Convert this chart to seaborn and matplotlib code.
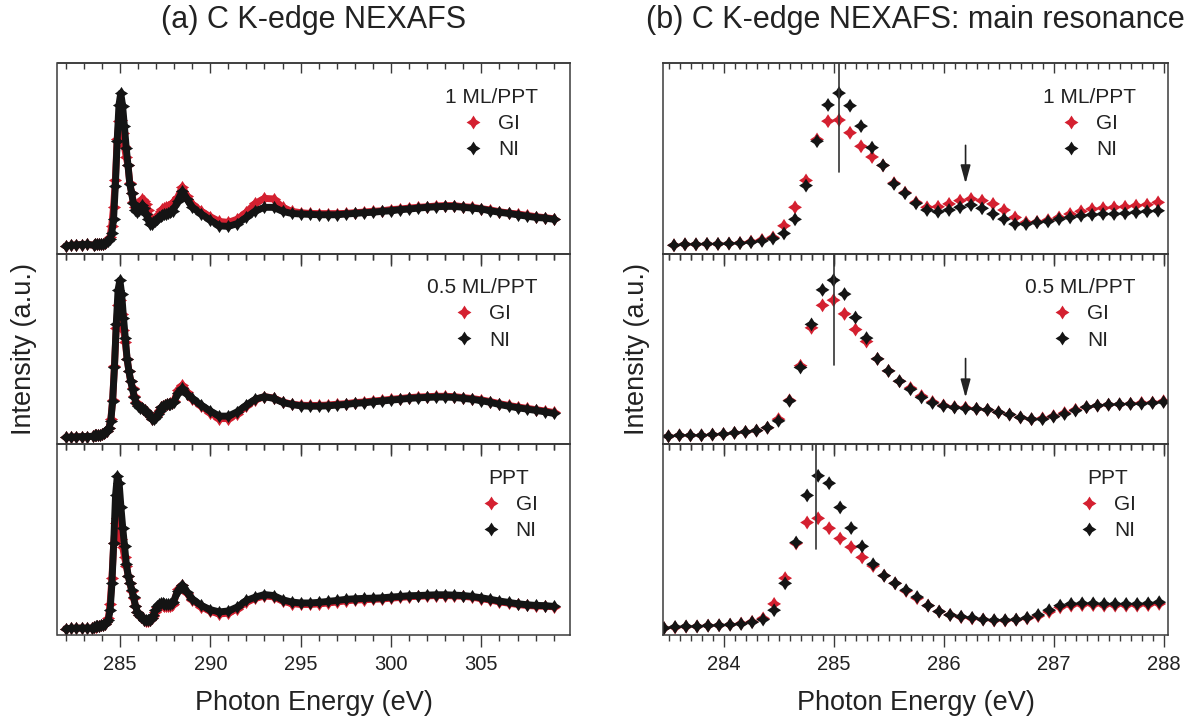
import numpy as np
import pandas as pd
import seaborn as sns
import matplotlib.pyplot as plt
from matplotlib.lines import Line2D
from matplotlib.path import Path
from matplotlib.ticker import MultipleLocator

# Data (intensity in arbitrary units)
samples = ['1 ML/PPT', '0.5 ML/PPT', 'PPT']
geometries = ['GI', 'NI']
colors = {'GI': '#d42030', 'NI': '#141414'}

# survey points below and above the fine 0.1 eV scan
pre_energy = [282.0, 282.3, 282.6, 282.9, 283.2]
post_energy = [288.2, 288.45, 288.7, 289.0, 289.5, 290.0, 290.5, 291.0, 291.5, 292.0,
               292.5, 293.0, 293.5, 294.0, 294.5, 295.0, 295.5, 296.0, 296.5, 297.0,
               297.5, 298.0, 298.5, 299.0, 299.5, 300.0, 300.5, 301.0, 301.5, 302.0,
               302.5, 303.0, 303.5, 304.0, 304.5, 305.0, 305.5, 306.0, 306.5, 307.0,
               307.5, 308.0, 308.5, 309.0]
# first point of the 0.1 eV scan for each sample
fine_start = [283.55, 283.50, 283.46]

# 1 ML/PPT
ml1_gi_pre = [0.040, 0.044, 0.046, 0.048, 0.049]
ml1_ni_pre = [0.040, 0.044, 0.046, 0.048, 0.049]
ml1_gi_fine = [0.044, 0.049, 0.049, 0.051, 0.051, 0.053, 0.056, 0.063, 0.072, 0.085,
               0.146, 0.243, 0.384, 0.599, 0.695, 0.701, 0.634, 0.563, 0.507, 0.463,
               0.370, 0.320, 0.269, 0.243, 0.246, 0.261, 0.278, 0.287, 0.278, 0.261,
               0.229, 0.190, 0.164, 0.167, 0.176, 0.190, 0.208, 0.222, 0.234, 0.239,
               0.243, 0.246, 0.252, 0.257, 0.269]
ml1_ni_fine = [0.044, 0.049, 0.049, 0.051, 0.051, 0.053, 0.055, 0.060, 0.067, 0.079,
               0.106, 0.180, 0.357, 0.590, 0.780, 0.842, 0.776, 0.669, 0.556, 0.463,
               0.366, 0.317, 0.264, 0.229, 0.220, 0.229, 0.243, 0.255, 0.238, 0.208,
               0.181, 0.155, 0.155, 0.164, 0.169, 0.181, 0.190, 0.199, 0.204, 0.208,
               0.208, 0.211, 0.217, 0.222, 0.225]
ml1_gi_post = [0.296, 0.349, 0.305, 0.261, 0.222, 0.194, 0.169, 0.164, 0.181, 0.217,
               0.264, 0.290, 0.287, 0.243, 0.222, 0.215, 0.211, 0.210, 0.210, 0.210,
               0.211, 0.215, 0.218, 0.222, 0.225, 0.231, 0.234, 0.239, 0.243, 0.246,
               0.250, 0.252, 0.252, 0.246, 0.243, 0.236, 0.229, 0.220, 0.213, 0.208,
               0.201, 0.194, 0.189, 0.183]
ml1_ni_post = [0.278, 0.327, 0.287, 0.243, 0.208, 0.176, 0.146, 0.143, 0.158, 0.190,
               0.225, 0.243, 0.243, 0.222, 0.211, 0.208, 0.206, 0.204, 0.204, 0.204,
               0.208, 0.211, 0.215, 0.217, 0.222, 0.225, 0.231, 0.234, 0.239, 0.243,
               0.246, 0.248, 0.248, 0.243, 0.239, 0.234, 0.225, 0.217, 0.211, 0.204,
               0.197, 0.190, 0.187, 0.180]

# 0.5 ML/PPT
ml05_gi_pre = [0.036, 0.038, 0.039, 0.040, 0.041]
ml05_ni_pre = [0.036, 0.038, 0.039, 0.040, 0.041]
ml05_gi_fine = [0.042, 0.047, 0.047, 0.047, 0.051, 0.054, 0.060, 0.065, 0.072, 0.087,
                0.132, 0.231, 0.412, 0.611, 0.729, 0.756, 0.684, 0.602, 0.539, 0.448,
                0.385, 0.331, 0.295, 0.253, 0.222, 0.204, 0.195, 0.192, 0.186, 0.181,
                0.168, 0.156, 0.141, 0.132, 0.136, 0.148, 0.164, 0.181, 0.195, 0.203,
                0.208, 0.210, 0.213, 0.217, 0.219, 0.226]
ml05_ni_fine = [0.042, 0.047, 0.047, 0.047, 0.051, 0.054, 0.060, 0.065, 0.072, 0.087,
                0.123, 0.228, 0.403, 0.629, 0.810, 0.861, 0.788, 0.665, 0.557, 0.448,
                0.385, 0.331, 0.289, 0.246, 0.217, 0.201, 0.193, 0.188, 0.186, 0.181,
                0.168, 0.156, 0.141, 0.132, 0.132, 0.145, 0.159, 0.177, 0.195, 0.203,
                0.208, 0.210, 0.212, 0.213, 0.217, 0.222]
ml05_gi_post = [0.285, 0.310, 0.275, 0.238, 0.200, 0.165, 0.135, 0.135, 0.160, 0.200,
                0.235, 0.250, 0.243, 0.222, 0.211, 0.205, 0.204, 0.204, 0.206, 0.210,
                0.213, 0.219, 0.222, 0.227, 0.231, 0.236, 0.240, 0.245, 0.248, 0.250,
                0.252, 0.252, 0.250, 0.245, 0.240, 0.233, 0.224, 0.213, 0.204, 0.196,
                0.189, 0.182, 0.175, 0.167]
ml05_ni_post = [0.270, 0.293, 0.265, 0.241, 0.206, 0.175, 0.148, 0.148, 0.171, 0.206,
                0.237, 0.250, 0.241, 0.220, 0.209, 0.202, 0.200, 0.200, 0.202, 0.206,
                0.209, 0.215, 0.218, 0.223, 0.227, 0.232, 0.236, 0.241, 0.244, 0.246,
                0.248, 0.248, 0.246, 0.241, 0.236, 0.229, 0.220, 0.209, 0.200, 0.192,
                0.185, 0.178, 0.171, 0.162]

# PPT
ppt_gi_pre = [0.033, 0.035, 0.036, 0.036, 0.036]
ppt_ni_pre = [0.033, 0.035, 0.036, 0.036, 0.036]
ppt_gi_fine = [0.036, 0.040, 0.044, 0.045, 0.049, 0.051, 0.054, 0.060, 0.069, 0.087,
               0.163, 0.298, 0.480, 0.590, 0.612, 0.560, 0.506, 0.461, 0.407, 0.362,
               0.311, 0.271, 0.231, 0.193, 0.154, 0.123, 0.105, 0.094, 0.087, 0.081,
               0.076, 0.076, 0.080, 0.087, 0.099, 0.121, 0.145, 0.154, 0.157, 0.157,
               0.154, 0.154, 0.154, 0.154, 0.157, 0.163]
ppt_ni_fine = [0.036, 0.042, 0.045, 0.045, 0.049, 0.051, 0.054, 0.058, 0.067, 0.081,
               0.130, 0.271, 0.485, 0.732, 0.835, 0.796, 0.669, 0.561, 0.465, 0.371,
               0.311, 0.271, 0.235, 0.199, 0.154, 0.123, 0.105, 0.096, 0.090, 0.081,
               0.078, 0.078, 0.081, 0.090, 0.105, 0.130, 0.154, 0.163, 0.166, 0.166,
               0.163, 0.163, 0.163, 0.163, 0.166, 0.172]
ppt_gi_post = [0.240, 0.262, 0.222, 0.185, 0.148, 0.125, 0.110, 0.115, 0.138, 0.172,
               0.192, 0.205, 0.200, 0.178, 0.165, 0.160, 0.160, 0.163, 0.168, 0.173,
               0.179, 0.183, 0.185, 0.187, 0.189, 0.193, 0.197, 0.201, 0.203, 0.205,
               0.207, 0.207, 0.205, 0.203, 0.198, 0.191, 0.183, 0.174, 0.167, 0.160,
               0.155, 0.152, 0.151, 0.148]
ppt_ni_post = [0.233, 0.264, 0.225, 0.190, 0.155, 0.133, 0.121, 0.126, 0.147, 0.181,
               0.199, 0.212, 0.207, 0.185, 0.173, 0.168, 0.168, 0.171, 0.176, 0.181,
               0.187, 0.190, 0.192, 0.193, 0.195, 0.199, 0.202, 0.206, 0.207, 0.209,
               0.211, 0.211, 0.209, 0.207, 0.202, 0.195, 0.187, 0.178, 0.171, 0.164,
               0.159, 0.155, 0.154, 0.150]

# main resonance position marked in panel (b), and the 286.2 eV feature
peak_lines = [285.05, 285.0, 284.84]
arrow_energy = 286.2

series = {
    '1 ML/PPT': {'GI': (ml1_gi_pre, ml1_gi_fine, ml1_gi_post),
                 'NI': (ml1_ni_pre, ml1_ni_fine, ml1_ni_post)},
    '0.5 ML/PPT': {'GI': (ml05_gi_pre, ml05_gi_fine, ml05_gi_post),
                   'NI': (ml05_ni_pre, ml05_ni_fine, ml05_ni_post)},
    'PPT': {'GI': (ppt_gi_pre, ppt_gi_fine, ppt_gi_post),
            'NI': (ppt_ni_pre, ppt_ni_fine, ppt_ni_post)},
}

frames = []
for i, sample in enumerate(samples):
    for geo in geometries:
        pre, fine, post = series[sample][geo]
        e_fine = list(np.round(fine_start[i] + 0.1 * np.arange(len(fine)), 2))
        frames.append(pd.DataFrame({
            'sample': sample,
            'geometry': geo,
            'part': ['pre'] * len(pre) + ['fine'] * len(fine) + ['post'] * len(post),
            'energy': pre_energy + e_fine + post_energy,
            'intensity': pre + fine + post,
        }))
df = pd.concat(frames, ignore_index=True)

# Style
sns.set_theme(style='white')
plt.rcParams['font.family'] = ['Liberation Sans', 'DejaVu Sans']
plt.rcParams['text.color'] = '#222222'
plt.rcParams['axes.edgecolor'] = '#3a3a3a'
plt.rcParams['xtick.color'] = '#3a3a3a'
plt.rcParams['xtick.labelcolor'] = '#222222'

# chunky 4-point star like the original markers
star = Path.unit_regular_star(4, 0.55)

W, H = 1193, 721
fig = plt.figure(figsize=(W / 100, H / 100), dpi=100)

panel_top, panel_bottom = 63, 635
ph = (panel_bottom - panel_top) / 3
left_x = (57.5, 570)
right_x = (663, 1168)


def make_ax(xr, i):
    y0 = panel_top + i * ph
    return fig.add_axes([xr[0] / W, 1 - (y0 + ph) / H, (xr[1] - xr[0]) / W, ph / H])


def style_ax(ax, xlim, major, minor, bottom_row):
    ax.set_xlim(*xlim)
    ax.set_ylim(0, 1)
    ax.set_yticks([])
    ax.set_xlabel('')
    ax.set_ylabel('')
    ax.patch.set_visible(False)
    for sp in ax.spines.values():
        sp.set_linewidth(1.1)
    ax.xaxis.set_major_locator(MultipleLocator(major))
    ax.xaxis.set_minor_locator(MultipleLocator(minor))
    ax.tick_params(axis='x', which='both', direction='out', bottom=True, top=False,
                   labelbottom=bottom_row, labelsize=14.5, pad=6, width=1.0)
    ax.tick_params(axis='x', which='major', length=8.5)
    ax.tick_params(axis='x', which='minor', length=4)
    sec = ax.secondary_xaxis('top')
    sec.xaxis.set_major_locator(MultipleLocator(major))
    sec.xaxis.set_minor_locator(MultipleLocator(minor))
    sec.tick_params(axis='x', which='both', direction='in', labeltop=False, width=1.0)
    sec.tick_params(axis='x', which='major', length=7)
    sec.tick_params(axis='x', which='minor', length=4)
    sec.spines['top'].set_linewidth(1.1)


def add_legend(ax, sample):
    handles = [Line2D([], [], marker=star, color=colors[g], ls='none', ms=10, mew=0)
               for g in geometries]
    ax.legend(handles, geometries, title=sample, loc='upper right',
              bbox_to_anchor=(0.953, 0.915), borderaxespad=0, frameon=False,
              fontsize=15, title_fontsize=15, handletextpad=0.7, labelspacing=0.35,
              handlelength=1.0)


for i, sample in enumerate(samples):
    d = df[df['sample'] == sample]

    # (a) full C K-edge
    axl = make_ax(left_x, i)
    sns.lineplot(data=d, x='energy', y='intensity', hue='geometry', hue_order=geometries,
                 palette=colors, estimator=None, sort=True, lw=5, marker=star,
                 markersize=9.5, markeredgewidth=0, legend=False, ax=axl)
    style_ax(axl, (281.55, 309.9), 5, 1, i == 2)
    add_legend(axl, sample)

    # (b) zoom on the main resonance
    axr = make_ax(right_x, i)
    sns.scatterplot(data=d[d['part'] == 'fine'], x='energy', y='intensity', hue='geometry',
                    hue_order=geometries, palette=colors, marker=star, s=100,
                    linewidth=0, legend=False, ax=axr)
    style_ax(axr, (283.45, 288.04), 1, 0.1, i == 2)
    add_legend(axr, sample)

    line_bottom = [0.428, 0.414, 0.453][i]
    axr.axvline(peak_lines[i], ymin=line_bottom, ymax=1, color='#333333', lw=1.2)
    if i < 2:
        a_top, a_tip = [(0.568, 0.368), (0.45, 0.245)][i]
        axr.annotate('', xy=(arrow_energy, a_tip), xytext=(arrow_energy, a_top),
                     xycoords=('data', 'axes fraction'),
                     textcoords=('data', 'axes fraction'),
                     arrowprops=dict(arrowstyle='-|>,head_width=0.3,head_length=1.1',
                                     color='#222222', lw=1.2, shrinkA=0, shrinkB=0,
                                     mutation_scale=10))

# Titles and axis labels
fig.text((left_x[0] + left_x[1]) / 2 / W, 1 - 20 / H, '(a) C K-edge NEXAFS',
         ha='center', va='center', fontsize=22)
fig.text((right_x[0] + right_x[1]) / 2 / W, 1 - 20 / H, '(b) C K-edge NEXAFS: main resonance',
         ha='center', va='center', fontsize=22)
for xr in (left_x, right_x):
    fig.text((xr[0] + xr[1]) / 2 / W, 1 - 703 / H, 'Photon Energy (eV)',
             ha='center', va='center', fontsize=19.5)
fig.text(24 / W, 1 - 349 / H, 'Intensity (a.u.)', rotation=90, ha='center', va='center',
         fontsize=19.5)
fig.text(637 / W, 1 - 349 / H, 'Intensity (a.u.)', rotation=90, ha='center', va='center',
         fontsize=19.5)

fig.savefig('out.png', dpi=100, facecolor='white')
